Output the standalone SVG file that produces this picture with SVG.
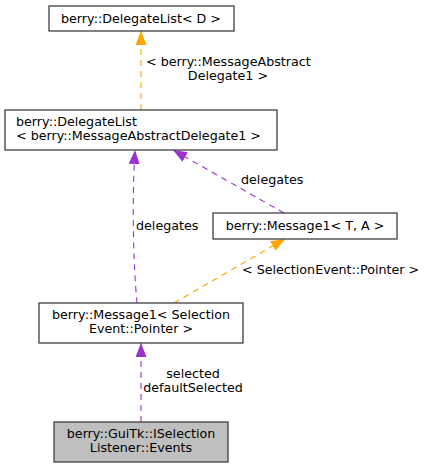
<svg xmlns="http://www.w3.org/2000/svg" width="428" height="468" viewBox="0 0 428 468">
<style>
text{font-family:"DejaVu Sans",sans-serif;font-size:12.7px;fill:#000}
.n{fill:#fff;stroke:#404040;stroke-width:1.3}
.c{text-anchor:middle}
.e{fill:none;stroke-width:1.1;stroke-dasharray:6,5}
.o{stroke:#ffa500}
.p{stroke:#9a32cd}
</style>
<defs>
<marker id="ao" markerUnits="userSpaceOnUse" markerWidth="14" markerHeight="11" refX="14" refY="5.5" orient="auto"><path d="M0,0 L14,5.5 L0,11 z" fill="#ffa500"/></marker>
<marker id="ap" markerUnits="userSpaceOnUse" markerWidth="14" markerHeight="11" refX="14" refY="5.5" orient="auto"><path d="M0,0 L14,5.5 L0,11 z" fill="#9a32cd"/></marker>
</defs>
<rect width="428" height="468" fill="#fff"/>
<g id="edges">
<path class="e o" d="M141,110 L141,31" marker-end="url(#ao)"/>
<text x="146" y="66">&lt; berry::MessageAbstract</text>
<text x="228" y="80" class="c">Delegate1 &gt;</text>
<path class="e p" d="M284,213 L173,150" marker-end="url(#ap)"/>
<text x="241" y="184">delegates</text>
<path class="e p" d="M137,303 C133,260 132,200 135,150" marker-end="url(#ap)"/>
<text x="136" y="230">delegates</text>
<path class="e o" d="M174,303 L285,239" marker-end="url(#ao)"/>
<text x="242" y="274">&lt; SelectionEvent::Pointer &gt;</text>
<path class="e p" d="M141,422 L141,343" marker-end="url(#ap)"/>
<text x="193" y="378" class="c">selected</text>
<text x="193" y="392" class="c">defaultSelected</text>
</g>
<g id="node1">
<rect class="n" x="49" y="6" width="185" height="25"/>
<text x="141" y="23" class="c">berry::DelegateList&lt; D &gt;</text>
</g>
<g id="node2">
<rect class="n" x="5" y="110" width="272" height="40"/>
<text x="16" y="126">berry::DelegateList</text>
<text x="16" y="140">&lt; berry::MessageAbstractDelegate1 &gt;</text>
</g>
<g id="node3">
<rect class="n" x="213" y="213" width="184" height="26"/>
<text x="305" y="230" class="c">berry::Message1&lt; T, A &gt;</text>
</g>
<g id="node4">
<rect class="n" x="39" y="303" width="204" height="40"/>
<text x="141" y="319" class="c">berry::Message1&lt; Selection</text>
<text x="141" y="333" class="c">Event::Pointer &gt;</text>
</g>
<g id="node5">
<rect class="n" x="54" y="422" width="174" height="40" style="fill:#bfbfbf"/>
<text x="141" y="438" class="c">berry::GuiTk::ISelection</text>
<text x="141" y="452" class="c">Listener::Events</text>
</g>
</svg>
